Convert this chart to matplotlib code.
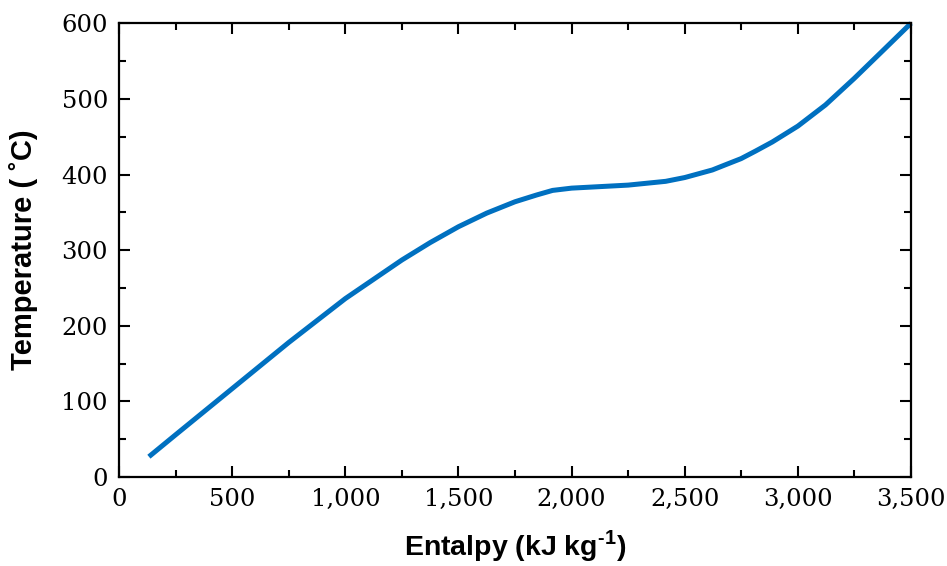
import matplotlib.pyplot as plt
from matplotlib.ticker import MultipleLocator, FuncFormatter

# values
enthalpy = [132, 250, 500, 750, 1000, 1250, 1375, 1500, 1625, 1750, 1846,
            1916, 2000, 2250, 2416, 2500, 2622, 2681, 2749, 2813, 2887,
            3000, 3122, 3249, 3373, 3500]
temperature = [27, 56, 117, 178, 236, 287, 310, 331, 349, 364, 373,
               379, 382, 386, 391, 396, 406, 413, 421, 431, 443,
               464, 492, 527, 563, 600]

plt.rcParams['mathtext.fontset'] = 'custom'
plt.rcParams['mathtext.bf'] = 'Liberation Sans:bold'
plt.rcParams['mathtext.rm'] = 'Liberation Sans:bold'

fig = plt.figure(figsize=(9.47, 5.66), dpi=100)
ax = fig.add_axes([0.1257, 0.157, 0.8363, 0.802])

ax.plot(enthalpy, temperature, color='#0070C0', linewidth=3.6,
        solid_capstyle='butt', solid_joinstyle='round', clip_on=False)

ax.set_xlim(0, 3500)
ax.set_ylim(0, 600)
ax.xaxis.set_major_locator(MultipleLocator(500))
ax.xaxis.set_minor_locator(MultipleLocator(250))
ax.yaxis.set_major_locator(MultipleLocator(100))
ax.yaxis.set_minor_locator(MultipleLocator(50))
ax.xaxis.set_major_formatter(FuncFormatter(lambda v, p: f"{int(v):,}"))

for s in ax.spines.values():
    s.set_linewidth(1.6)
ax.tick_params(which='both', direction='in', top=True, right=True, width=1.5)
ax.tick_params(which='major', length=8, pad=8)
ax.tick_params(which='minor', length=5)
for lab in ax.get_xticklabels() + ax.get_yticklabels():
    lab.set_fontfamily('DejaVu Serif')
    lab.set_fontsize(17.5)

ax.set_xlabel('Entalpy (kJ kg$^{\\text{-1}}$)', fontfamily='Liberation Sans',
              fontweight='bold', fontsize=20.5, labelpad=12)
ax.set_ylabel('Temperature ( \u02daC)', fontfamily='Liberation Sans',
              fontweight='bold', fontsize=21, labelpad=17)

fig.savefig('out.png', dpi=100)
